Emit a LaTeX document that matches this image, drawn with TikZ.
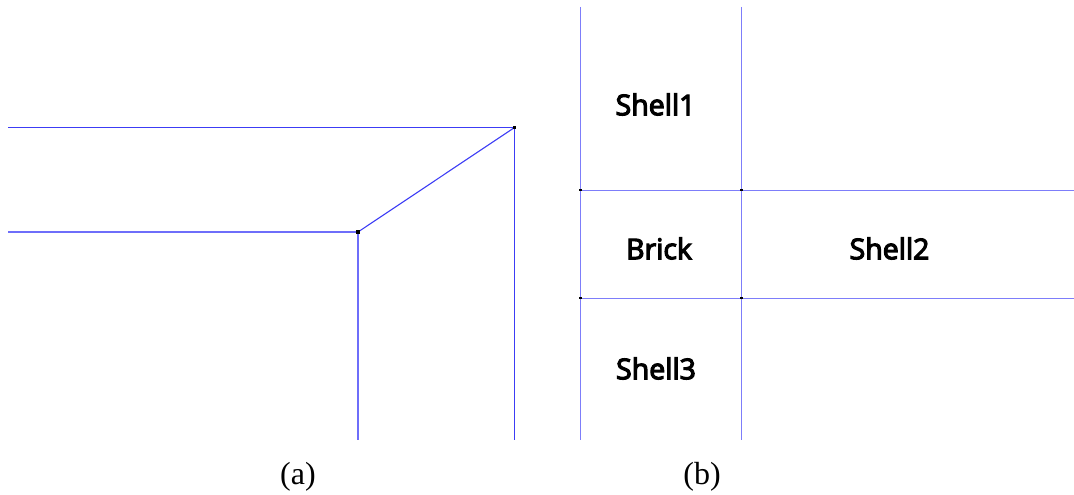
\documentclass[tikz,border=0pt]{standalone}
\usepackage{fontspec}
\setmainfont{Liberation Serif}
\newfontfamily\labelfont[FakeBold=4]{Open Sans}
\usetikzlibrary{positioning}
\usetikzlibrary{backgrounds}
\definecolor{meshblue}{RGB}{60,60,245}
\definecolor{innerblue}{RGB}{110,110,250}
\definecolor{gridblue}{RGB}{125,125,250}
\tikzset{
	meshline/.style={draw=meshblue, line width=1.1pt},
	innerline/.style={draw=innerblue, line width=1.2pt},
	gridline/.style={draw=gridblue, line width=1pt},
	dotnode/.style={rectangle, fill=black, inner sep=0pt, minimum size=2.6pt},
	partlabel/.style={font=\labelfont\fontsize{28.5}{28.5}\selectfont, text=black, inner sep=0pt},
	caption/.style={font=\fontsize{32}{32}\selectfont, inner sep=0pt}
}
\begin{document}
\begin{tikzpicture}[x=1pt,y=-1pt]
		\useasboundingbox (0,0) rectangle (1074,495);
		
		%left part
		\coordinate (ta) at (8,127.5);
		\coordinate (tb) at (8,232);
		\coordinate (ba) at (514.5,440);
		\coordinate (bb) at (358,440);
		\node (p1) [dotnode, minimum size=3.6pt] at (514.5,127.5) {};
		\node (p2) [dotnode, minimum size=3.6pt] at (358,232) {};
		\begin{scope}[on background layer]
		\draw[meshline] (ta) -- (p1.center) -- (ba);
		\draw[innerline] (tb) -- (p2.center) -- (bb);
		\draw[meshline] (p2.center) -- (p1.center);
		\end{scope}
		
		%right part
		\coordinate (v1t) at (580.5,7);
		\coordinate (v1b) at (580.5,440);
		\coordinate (v2t) at (741.5,7);
		\coordinate (v2b) at (741.5,440);
		\coordinate (h1r) at (1074,190);
		\coordinate (h2r) at (1074,298);
		\node (q1) [dotnode] at (580.5,190) {};
		\node (q2) [dotnode] at (741.5,190) {};
		\node (q3) [dotnode] at (580.5,298) {};
		\node (q4) [dotnode] at (741.5,298) {};
		\begin{scope}[on background layer]
		\draw[gridline] (v1t) -- (v1b);
		\draw[gridline] (v2t) -- (v2b);
		\draw[gridline] (q1.center) -- (h1r);
		\draw[gridline] (q3.center) -- (h2r);
		\end{scope}
		
		\node (shell1) [partlabel] at (655.5,104.5) {Shell1};
		\node (brick) [partlabel] at (659,248.5) {Brick};
		\node (shell2) [partlabel] at (889.5,248.5) {Shell2};
		\node (shell3) [partlabel] at (656,368.5) {Shell3};
		
		\node (capa) [caption] at (298,477) {(a)};
		\node (capb) [caption] at (702,477) {(b)};
		\end{tikzpicture}
\end{document}
